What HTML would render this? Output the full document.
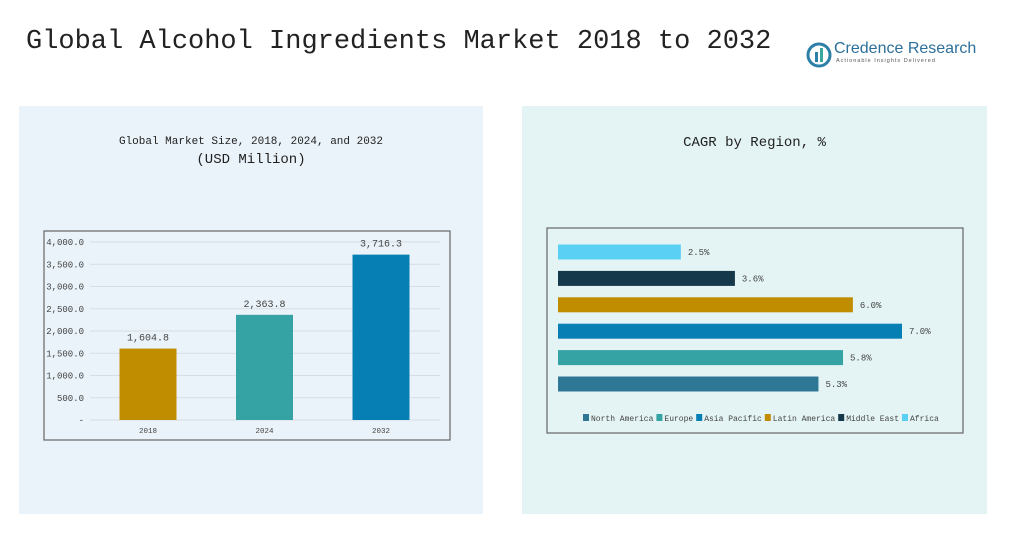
<!DOCTYPE html>
<html><head><meta charset="utf-8"><style>
body{margin:0;width:1028px;height:542px;background:#fff;position:relative;overflow:hidden;font-family:"Liberation Mono","Noto Sans CJK SC",monospace;}
.abs{position:absolute;}
</style></head><body>
<div class="abs" style="left:26px;top:27px;font-size:27px;color:#222;white-space:nowrap;">Global Alcohol Ingredients Market 2018 to 2032</div>
<div class="abs" style="left:806px;top:40px;width:160px;height:28px;">
<svg width="26" height="26" style="position:absolute;left:0;top:2px"><circle cx="13" cy="13" r="11" fill="none" stroke="#2b7fa8" stroke-width="3"/><rect x="9" y="10" width="3" height="10" fill="#2b7fa8"/><rect x="14" y="6" width="3" height="14" fill="#3aa6a0"/></svg>
<div class="abs" style="left:28px;top:0;font-family:'Liberation Sans',sans-serif;font-size:16px;color:#2b6f9a;white-space:nowrap">Credence Research</div>
<div class="abs" style="left:30px;top:18px;font-family:'Liberation Sans',sans-serif;font-size:5.5px;color:#555;letter-spacing:1px;white-space:nowrap">Actionable Insights Delivered</div>
</div>
<div class="abs" style="left:19px;top:106px;width:464px;height:408px;background:#eaf3f9;"></div>
<div class="abs" style="left:522px;top:106px;width:465px;height:408px;background:#e4f4f4;"></div>
<div class="abs" style="left:19px;top:133px;width:464px;text-align:center;font-size:11px;color:#222;line-height:18px">Global Market Size, 2018, 2024, and 2032<br><span style="font-size:14px">(USD Million)</span></div>
<div class="abs" style="left:522px;top:135px;width:465px;text-align:center;font-size:14px;color:#222;">CAGR by Region, %</div>
<svg class="abs" style="left:0;top:0" width="1028" height="542" id="svg"></svg>
<script>
const years=["2018","2024","2032"];
const sizes=[1604.8,2363.8,3716.3];
const sizeLabels=["1,604.8","2,363.8","3,716.3"];
const yTicks=[0,500,1000,1500,2000,2500,3000,3500,4000];
const yTickLabels=["-","500.0","1,000.0","1,500.0","2,000.0","2,500.0","3,000.0","3,500.0","4,000.0"];
const barColors=["#c08c00","#35a3a3","#0680b4"];
const regions=["North America","Europe","Asia Pacific","Latin America","Middle East","Africa"];
const cagr=[5.3,5.8,7.0,6.0,3.6,2.5];
const cagrLabels=["5.3%","5.8%","7.0%","6.0%","3.6%","2.5%"];
const regionColors=["#2e7896","#35a3a3","#0680b4","#c08c00","#15384a","#5bd0f5"];
const NS="http://www.w3.org/2000/svg",svg=document.getElementById('svg');
function mk(t,a,txt){const e=document.createElementNS(NS,t);for(const k in a)e.setAttribute(k,a[k]);if(txt!=null)e.textContent=txt;svg.appendChild(e);return e;}
const frame=mk('rect',{x:44,y:231,width:406,height:209,fill:'none',stroke:'#666','stroke-width':1.2});

const y=v=>420-v/4000*178;
const xc=i=>148+i*116.5;
yTicks.forEach((t,i)=>{
 const g=mk('line',{x1:90,x2:440,y1:y(t),y2:y(t),stroke:'#d6dde3','stroke-width':1});
 
 const l=mk('text',{x:84,y:y(t)+3,'text-anchor':'end','font-size':9,fill:'#444'},yTickLabels[i]);
 
});
years.forEach((yr,i)=>{
 const b=mk('rect',{x:xc(i)-28.5,y:y(sizes[i]),width:57,height:420-y(sizes[i]),fill:barColors[i]});
 
 const v=mk('text',{x:xc(i),y:y(sizes[i])-8,'text-anchor':'middle','font-size':10,fill:'#444'},sizeLabels[i]);
 
 const xl=mk('text',{x:xc(i),y:433,'text-anchor':'middle','font-size':7.5,fill:'#444'},yr);
 
});
const frame2=mk('rect',{x:547,y:228,width:416,height:205,fill:'none',stroke:'#666','stroke-width':1.2});

const bx=v=>558+v/7*344;
const by=i=>384-i*26.4;
regions.forEach((r,i)=>{
 const b=mk('rect',{x:558,y:by(i)-7.5,width:bx(cagr[i])-558,height:15,fill:regionColors[i]});
 
 const v=mk('text',{x:bx(cagr[i])+7,y:by(i)+3,'font-size':9,fill:'#444'},cagrLabels[i]);
 
});
let lx=583;
regions.forEach((r,i)=>{
 const s=mk('rect',{x:lx,y:414,width:6,height:7,fill:regionColors[i]});
 
 const t=mk('text',{x:lx+8,y:421,'font-size':8,fill:'#444'},r);
 
 lx+=8+r.length*4.8+3;
});
</script>
</body></html>
